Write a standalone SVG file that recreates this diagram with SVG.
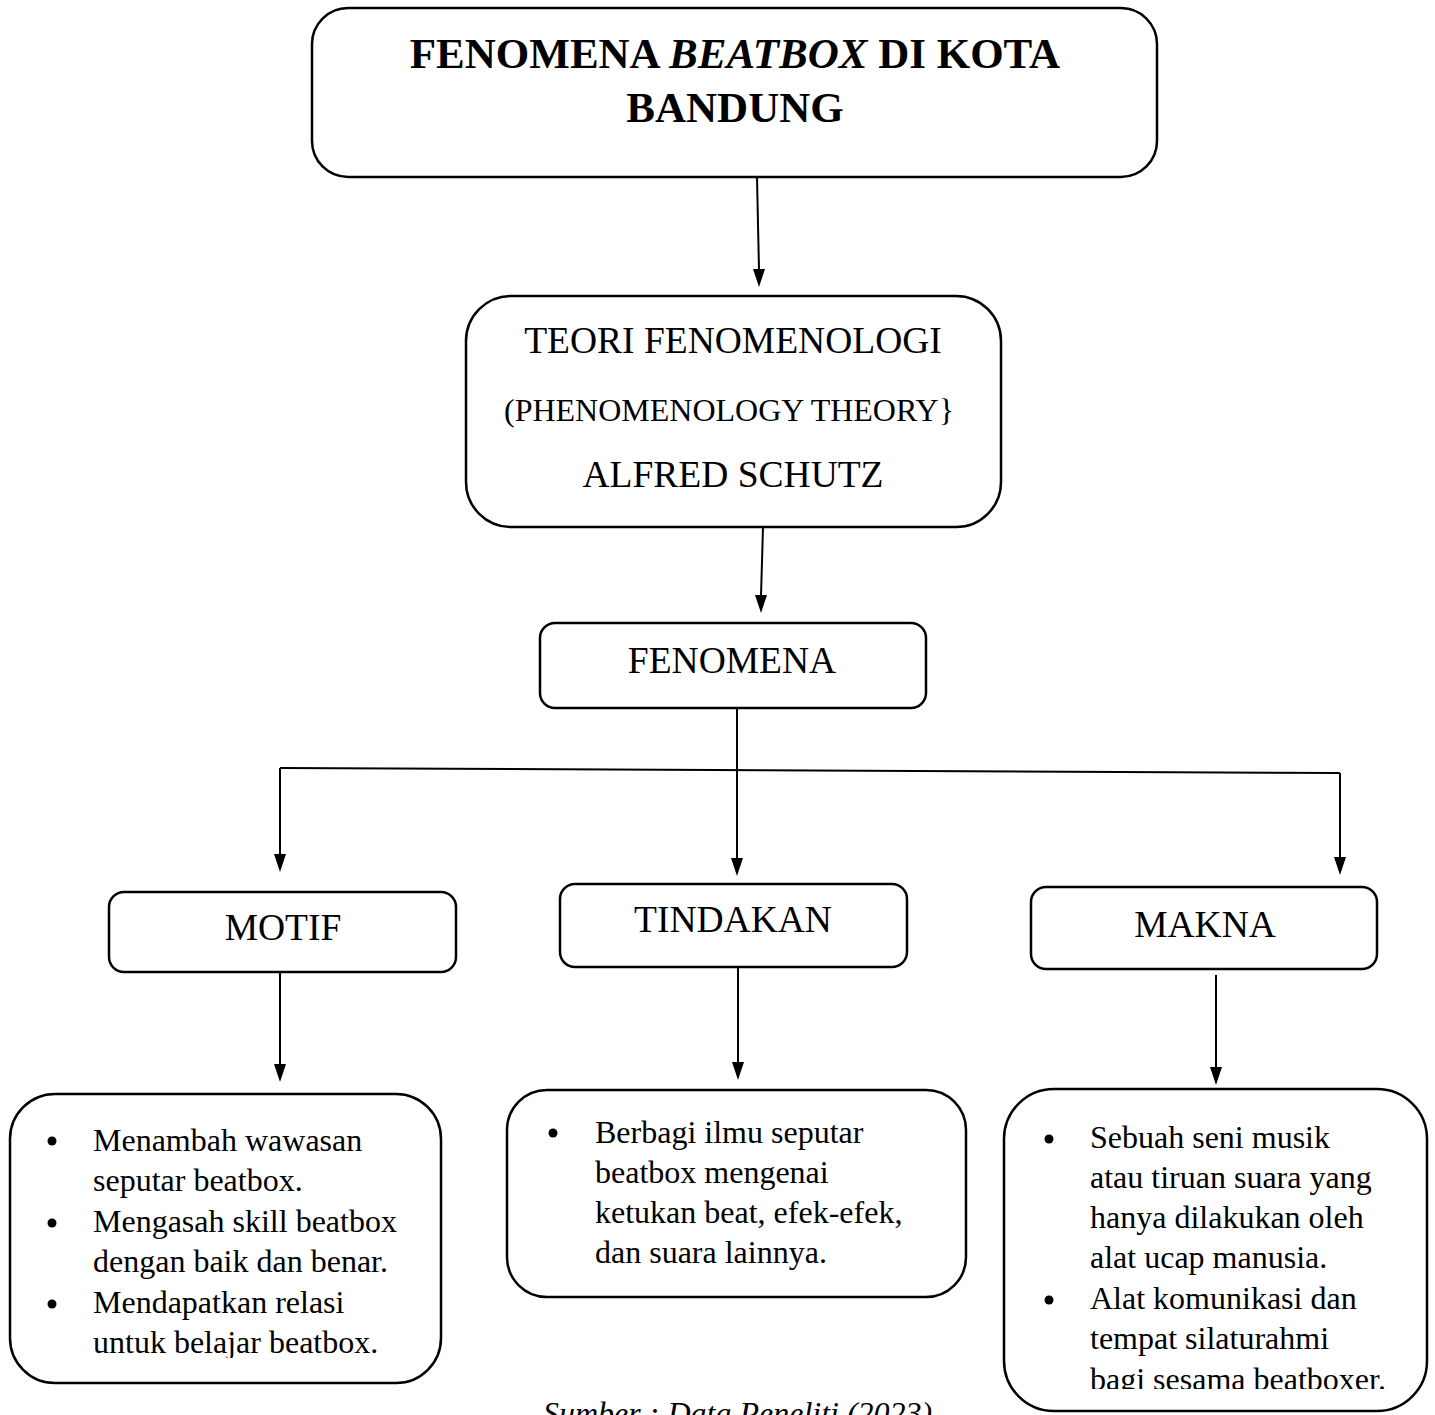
<svg xmlns="http://www.w3.org/2000/svg" width="1435" height="1415" viewBox="0 0 1435 1415">
<defs>
<style>
.box{fill:#fff;stroke:#000;stroke-width:2.5}
.t{font-family:"Liberation Serif","Times New Roman",serif;fill:#000}
.h{font-size:37.5px;text-anchor:middle}
.b{font-size:32px}
.c{stroke:#000;stroke-width:2;fill:none}
.ah{fill:#000}
</style>
<clipPath id="clipL"><rect x="0" y="1090" width="450" height="268"/></clipPath>
<clipPath id="clipR"><rect x="1000" y="1090" width="435" height="299"/></clipPath>
</defs>
<rect width="1435" height="1415" fill="#fff"/>

<g id="connectors">
<line class="c" x1="757" y1="177" x2="759" y2="270"/>
<path class="ah" d="M753,269 L765,269 L759,287 Z"/>
<line class="c" x1="763" y1="527" x2="761" y2="596"/>
<path class="ah" d="M755,595 L767,595 L761,613 Z"/>
<line class="c" x1="737" y1="708" x2="737" y2="859"/>
<path class="ah" d="M731,858 L743,858 L737,876 Z"/>
<line class="c" x1="280" y1="768" x2="1340" y2="773"/>
<line class="c" x1="280" y1="768" x2="280" y2="855"/>
<path class="ah" d="M274,854 L286,854 L280,872 Z"/>
<line class="c" x1="1340" y1="773" x2="1340" y2="858"/>
<path class="ah" d="M1334,857 L1346,857 L1340,875 Z"/>
<line class="c" x1="280" y1="972" x2="280" y2="1065"/>
<path class="ah" d="M274,1064 L286,1064 L280,1082 Z"/>
<line class="c" x1="738" y1="967" x2="738" y2="1063"/>
<path class="ah" d="M732,1062 L744,1062 L738,1080 Z"/>
<line class="c" x1="1216" y1="975" x2="1216" y2="1068"/>
<path class="ah" d="M1210,1067 L1222,1067 L1216,1085 Z"/>
</g>

<g id="node-title">
<rect class="box" x="312" y="8" width="845" height="169" rx="36" ry="36"/>
<text class="t" x="735" y="68" font-size="43" font-weight="bold" text-anchor="middle">FENOMENA <tspan font-style="italic">BEATBOX</tspan> DI KOTA</text>
<text class="t" x="735" y="122" font-size="43" font-weight="bold" text-anchor="middle">BANDUNG</text>
</g>

<g id="node-teori">
<rect class="box" x="466" y="296" width="535" height="231" rx="45" ry="45"/>
<text class="t h" x="733" y="353">TEORI FENOMENOLOGI</text>
<text class="t" x="729" y="421" font-size="32" text-anchor="middle">(PHENOMENOLOGY THEORY}</text>
<text class="t h" x="733" y="487">ALFRED SCHUTZ</text>
</g>

<g id="node-fenomena">
<rect class="box" x="540" y="623" width="386" height="85" rx="15" ry="15"/>
<text class="t h" x="732" y="673">FENOMENA</text>
</g>

<g id="node-motif">
<rect class="box" x="109" y="892" width="347" height="80" rx="15" ry="15"/>
<text class="t h" x="283" y="940">MOTIF</text>
</g>

<g id="node-tindakan">
<rect class="box" x="560" y="884" width="347" height="83" rx="15" ry="15"/>
<text class="t h" x="733" y="932">TINDAKAN</text>
</g>

<g id="node-makna">
<rect class="box" x="1031" y="887" width="346" height="82" rx="15" ry="15"/>
<text class="t h" x="1205" y="937">MAKNA</text>
</g>

<g id="node-motif-list">
<rect class="box" x="10" y="1094" width="431" height="289" rx="45" ry="45"/>
<circle cx="52" cy="1141" r="4.5"/>
<circle cx="52" cy="1223" r="4.5"/>
<circle cx="52" cy="1304" r="4.5"/>
<g clip-path="url(#clipL)">
<text class="t b" x="93" y="1151">Menambah wawasan</text>
<text class="t b" x="93" y="1191">seputar beatbox.</text>
<text class="t b" x="93" y="1232">Mengasah skill beatbox</text>
<text class="t b" x="93" y="1272">dengan baik dan benar.</text>
<text class="t b" x="93" y="1313">Mendapatkan relasi</text>
<text class="t b" x="93" y="1353">untuk belajar beatbox.</text>
</g>
</g>

<g id="node-tindakan-list">
<rect class="box" x="507" y="1090" width="459" height="207" rx="40" ry="40"/>
<circle cx="553" cy="1133" r="4.5"/>
<text class="t b" x="595" y="1143">Berbagi ilmu seputar</text>
<text class="t b" x="595" y="1183">beatbox mengenai</text>
<text class="t b" x="595" y="1223">ketukan beat, efek-efek,</text>
<text class="t b" x="595" y="1263">dan suara lainnya.</text>
</g>

<g id="node-makna-list">
<rect class="box" x="1004" y="1089" width="423" height="322" rx="50" ry="50"/>
<circle cx="1049" cy="1139" r="4.5"/>
<circle cx="1049" cy="1300" r="4.5"/>
<g clip-path="url(#clipR)">
<text class="t b" x="1090" y="1148">Sebuah seni musik</text>
<text class="t b" x="1090" y="1188">atau tiruan suara yang</text>
<text class="t b" x="1090" y="1228">hanya dilakukan oleh</text>
<text class="t b" x="1090" y="1268">alat ucap manusia.</text>
<text class="t b" x="1090" y="1309">Alat komunikasi dan</text>
<text class="t b" x="1090" y="1349">tempat silaturahmi</text>
<text class="t b" x="1090" y="1390">bagi sesama beatboxer.</text>
</g>
</g>

<text class="t" x="543" y="1424" font-size="32" font-style="italic">Sumber : Data Peneliti (2023)</text>
</svg>
